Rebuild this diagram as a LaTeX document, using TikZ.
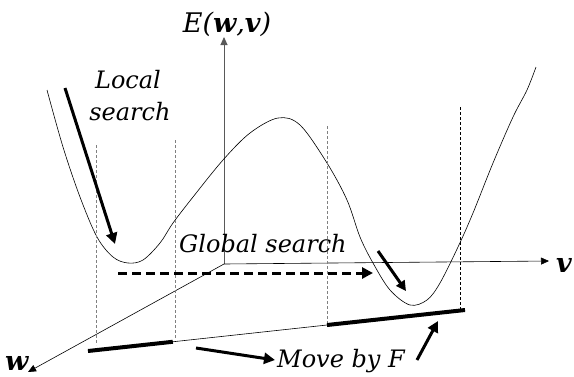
\documentclass[tikz,border=0pt]{standalone}
\usepackage{fontspec}
\setmainfont{DejaVu Serif}[ItalicFont={DejaVu Serif Italic}, BoldItalicFont={DejaVu Serif Bold Italic}]
\usepackage{tikz}
\usetikzlibrary{arrows.meta,calc,positioning}

\tikzset{
  lbl/.style={font=\fontsize{24}{32}\selectfont\itshape, inner sep=0pt},
  axlbl/.style={font=\fontsize{27}{32}\selectfont\itshape, inner sep=0pt},
  guide/.style={gray, dashed, line width=0.8pt, dash pattern=on 3pt off 2pt},
  bigarrow/.style={line width=3pt, -{Triangle[length=11pt,width=11pt]}},
}
\newcommand{\bvec}[1]{\textbf{\textit{#1}}}

\begin{document}
\begin{tikzpicture}[x=1pt, y=-1pt]
        % pixel coordinates, y downwards
        \useasboundingbox (0,0) rectangle (574,376);
        \coordinate (O) at (224,264);
        \coordinate (Etip) at (224,37);
        \coordinate (vtip) at (549,261);
        \coordinate (wtip) at (28,372);
        \draw[gray!70!black, line width=0.9pt, -{Triangle[length=8pt,width=7pt]}] (O) -- (Etip);
        \draw[line width=0.6pt, -{Triangle[length=8pt,width=7pt]}] (O) -- (vtip);
        \draw[line width=0.6pt, -{Triangle[length=8pt,width=7pt]}] (O) -- (wtip);
        \node[axlbl, anchor=base] (E) at (227,32) {E(\bvec{w},\bvec{v})};
        \node[axlbl, anchor=base west] (v) at (556,272) {\bvec{v}};
        \node[axlbl, anchor=base west] (w) at (5,370) {\bvec{w}};

        % energy landscape
        \draw[line width=0.6pt] plot[smooth, tension=0.55] coordinates {(47,90) (63,147) (80,197) (97,237) (113,257) (128,263) (143,260) (160,243) (173,223) (193,197) (223,160) (250,133) (278,118) (300,125) (327,163) (347,200) (360,237) (373,263) (390,290) (410,305) (427,300) (440,283) (458,247) (473,213) (493,163) (513,117) (527,90) (536,67)};

        % projection to the w-v plane
        \foreach \x/\ya/\yb in {96/145/345, 175/140/338, 327/126/326}
            {\draw[guide] (\x,\ya) -- (\x,\yb);}
        \draw[dashed, line width=0.6pt, dash pattern=on 3pt off 2pt] (460,107) -- (460,309);
        \coordinate (b1) at (88,351);
        \coordinate (b2) at (465,310);
        \draw[line width=0.6pt] (b1) -- (b2);
        \draw[line width=4pt] (b1) -- ($(b1)!0.225!(b2)$);
        \draw[line width=4pt] ($(b1)!0.634!(b2)$) -- (b2);

        % moves
        \node[lbl, anchor=base] (local) at (128,88) {Local};
        \node[lbl, anchor=base] (search) at (130,120) {search};
        \node[lbl, anchor=base west] (global) at (179,252) {Global search};
        \node[lbl, anchor=base west] (move) at (277,367) {Move by F};
        \draw[bigarrow] (65,88) -- (115,244);
        \draw[bigarrow, dash pattern=on 9pt off 5pt] (118,273) -- (373,273);
        \draw[line width=3pt, -{Triangle[length=10pt,width=10pt]}] (378,251) -- (406,291);
        \draw[bigarrow] (196,348) -- (275,360);
        \draw[bigarrow] (417,360) -- (438,321);
    \end{tikzpicture}
\end{document}
